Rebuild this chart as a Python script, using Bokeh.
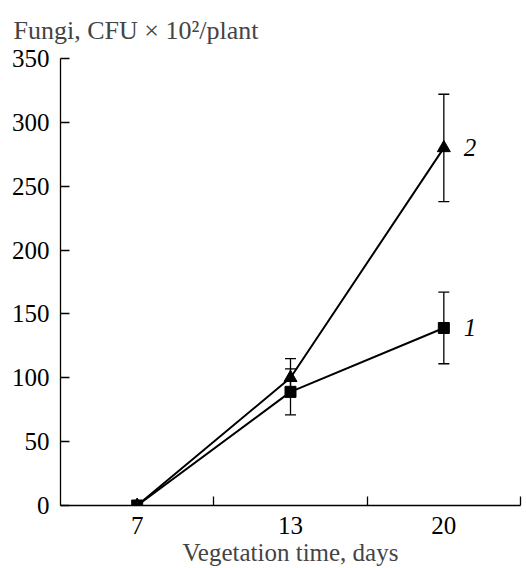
from bokeh.plotting import figure
from bokeh.models import Range1d, FixedTicker, Whisker, TeeHead, ColumnDataSource
from bokeh.embed import file_html
from bokeh.resources import INLINE
from bokeh.core.properties import value

days = ["7", "13", "20"]
fungi_1 = [0, 89, 139]
err_1 = [0, 18, 28]
fungi_2 = [0, 100, 280]
err_2 = [0, 15, 42]
y_ticks = [0, 50, 100, 150, 200, 250, 300, 350]
series_labels = ["1", "2"]
y_title = "Fungi, CFU \u00d7 10\u00b2/plant"

pos = list(range(1, len(days) + 1))
mids = [i + 0.5 for i in pos]
FONT = "Liberation Serif"
FS = "25px"

p = figure(width=524, height=568, output_backend="svg", toolbar_location=None,
           x_range=Range1d(0.5, 3.5), y_range=Range1d(0, 350),
           min_border_left=60, min_border_right=4, min_border_top=58, min_border_bottom=63,
           background_fill_color="white", border_fill_color="white")
p.outline_line_color = None
p.grid.visible = False

p.title.text = y_title
p.title.text_font = FONT
p.title.text_font_size = "26px"
p.title.text_font_style = "normal"
p.title.align = "left"
p.title.offset = -47
p.title.standoff = 27

# axes
ax = p.xaxis[0]
ax.ticker = FixedTicker(ticks=pos, minor_ticks=mids)
ax.major_label_overrides = {k: d for k, d in zip(pos, days)}
ax.major_tick_in = 0
ax.major_tick_out = 0
ax.minor_tick_in = 9
ax.minor_tick_out = 0
ax.major_label_standoff = 11
ax.axis_label = "Vegetation time, days"
ax.axis_label_standoff = 2
ax.axis_label_text_font = FONT
ax.axis_label_text_font_size = FS
ax.axis_label_text_font_style = "normal"

ay = p.yaxis[0]
ay.ticker = FixedTicker(ticks=y_ticks)
ay.major_tick_in = 9
ay.major_tick_out = 0
ay.minor_tick_in = 0
ay.minor_tick_out = 0
ay.major_label_standoff = 11

for a in (ax, ay):
    a.major_label_text_font = FONT
    a.major_label_text_font_size = FS
    a.major_label_text_color = "black"
    a.axis_line_color = "black"
    a.axis_line_width = 1.3
    a.major_tick_line_color = "black"
    a.minor_tick_line_color = "black"
    a.major_tick_line_width = 1.3
    a.minor_tick_line_width = 1.3

# lines
p.line(pos, fungi_2, line_color="black", line_width=2)
p.line(pos, fungi_1, line_color="black", line_width=2)

# error bars
for vals, errs in ((fungi_2, err_2), (fungi_1, err_1)):
    src = ColumnDataSource(dict(
        base=[pp for pp, e in zip(pos, errs) if e > 0],
        upper=[v + e for v, e in zip(vals, errs) if e > 0],
        lower=[v - e for v, e in zip(vals, errs) if e > 0],
    ))
    w = Whisker(source=src, base="base", upper="upper", lower="lower",
                line_color="black", line_width=1.3,
                upper_head=TeeHead(size=11, line_color="black", line_width=1.3),
                lower_head=TeeHead(size=11, line_color="black", line_width=1.3),
                level="glyph")
    p.add_layout(w)

# markers
p.scatter(pos, fungi_2, marker="triangle", size=13, color="black")
p.scatter(pos, fungi_1, marker="square", size=11, color="black")

# series labels
p.text(x=[pos[-1], pos[-1]], y=[fungi_1[-1], fungi_2[-1]], text=series_labels,
       x_offset=20, text_baseline="middle", text_align="left",
       text_font=value(FONT), text_font_size=FS, text_font_style="italic",
       text_color="black")

open("out.html", "w").write(file_html(p, INLINE))
